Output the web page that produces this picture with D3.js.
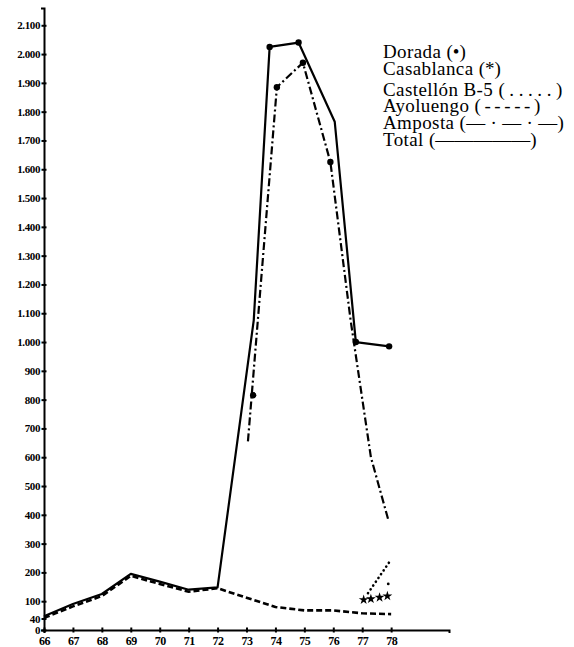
<!DOCTYPE html>
<html><head><meta charset="utf-8">
<script src="https://cdn.jsdelivr.net/npm/d3@7"></script>
<style>body{margin:0;background:#fff} svg{display:block}</style>
</head><body><svg id="c" width="574" height="647"></svg>
<script>
const years = [66,67,68,69,70,71,72,73,74,75,76,77,78];
const yTickValues = [0,40,100,200,300,400,500,600,700,800,900,1000,1100,1200,1300,1400,1500,1600,1700,1800,1900,2000,2100];
const yTickLabels = ["0","40","100","200","300","400","500","600","700","800","900","1.000","1.100","1.200","1.300","1.400","1.500","1.600","1.700","1.800","1.900","2.000","2.100"];

const totalYears  = [66,67,68,69,70,71,72,73.25,73.8,74.8,76.05,76.78,77.93];
const totalValues = [48,90,125,195,168,140,148,1075,2025,2040,1765,1000,985];
const ayoluengoYears  = [66,67,68,69,70,71,72,73,74,75,76,77,78];
const ayoluengoValues = [42,82,118,188,160,133,145,112,80,68,68,58,55];
const ampostaYears  = [73.05,74.05,74.95,75.9,76.6,77.3,77.9];
const ampostaValues = [655,1885,1970,1625,1075,600,383];
const castellonYears  = [77.2,78.0];
const castellonValues = [128,245];
const castellonExtraYears  = [77.9];
const castellonExtraValues = [160];
const casablancaYears  = [77.05,77.3,77.6,77.87];
const casablancaValues = [105,108,113,118];
const doradaYears  = [73.23,73.8,74.05,74.8,74.95,75.9,76.78,77.93];
const doradaValues = [815,2025,1885,2040,1970,1625,1000,985];

const legendNames   = ["Dorada","Casablanca","Castellón B-5","Ayoluengo","Amposta","Total"];
const legendSymbols = ["(•)","(*)","(.....)","(-----)","(— · — · —)","(—————)"];

const svg = d3.select("#c");
const x = d3.scaleLinear().domain([66,80]).range([44,449]);
const y = d3.scaleLinear().domain([0,2160]).range([630,8]);
const serif = "'Liberation Serif','Times New Roman',serif";

// Y axis
const gy = svg.append("g").attr("transform","translate(44,0)")
  .call(d3.axisLeft(y).tickValues(yTickValues).tickSizeOuter(0).tickSize(3)
    .tickFormat((d,i)=>yTickLabels[i]));
gy.select(".domain").attr("stroke","#000").attr("stroke-width",2);
gy.selectAll(".tick line").attr("x1",2.5).attr("x2",-2.5).attr("stroke-width",2);
gy.selectAll(".tick text").attr("x",-4).attr("font-family",serif).attr("font-weight","bold")
  .attr("font-size",11).attr("fill","#000").attr("letter-spacing",-0.4);

// X axis
const gx = svg.append("g").attr("transform","translate(0,630)")
  .call(d3.axisBottom(x).tickValues(years).tickSizeOuter(0).tickSize(3).tickFormat(d=>d));
gx.select(".domain").attr("stroke","#000").attr("stroke-width",2);
gx.selectAll(".tick line").attr("y1",-2.5).attr("y2",2.5).attr("stroke-width",2);
gx.selectAll(".tick text").attr("y",6).attr("font-family",serif).attr("font-weight","bold")
  .attr("font-size",12).attr("fill","#000").attr("letter-spacing",-0.5);

const line = d3.line().x(d=>x(d[0])).y(d=>y(d[1]));
const zip = (a,b)=>a.map((v,i)=>[v,b[i]]);

// Ayoluengo dashed
svg.append("path").datum(zip(ayoluengoYears,ayoluengoValues)).attr("d",line)
  .attr("fill","none").attr("stroke","#000").attr("stroke-width",2.6).attr("stroke-dasharray","6,3");
// Amposta dash-dot
svg.append("path").datum(zip(ampostaYears,ampostaValues)).attr("d",line)
  .attr("fill","none").attr("stroke","#000").attr("stroke-width",2.2).attr("stroke-dasharray","8,3,2,3");
// Castellón dotted
svg.append("path").datum(zip(castellonYears,castellonValues)).attr("d",line)
  .attr("fill","none").attr("stroke","#000").attr("stroke-width",2.6).attr("stroke-linecap","round")
  .attr("stroke-dasharray","0.1,4.5");
svg.selectAll(".cx").data(zip(castellonExtraYears,castellonExtraValues)).enter().append("circle")
  .attr("cx",d=>x(d[0])).attr("cy",d=>y(d[1])).attr("r",1.4).attr("fill","#000");
// Total solid
svg.append("path").datum(zip(totalYears,totalValues)).attr("d",line)
  .attr("fill","none").attr("stroke","#000").attr("stroke-width",2.2).attr("stroke-linejoin","round");
// Casablanca stars
svg.selectAll(".cb").data(zip(casablancaYears,casablancaValues)).enter().append("path")
  .attr("transform",d=>`translate(${x(d[0])},${y(d[1])})`)
  .attr("d",d3.symbol().type(d3.symbolStar).size(30)).attr("fill","#000");
// Dorada dots
svg.selectAll(".dd").data(zip(doradaYears,doradaValues)).enter().append("circle")
  .attr("cx",d=>x(d[0])).attr("cy",d=>y(d[1])).attr("r",3.2).attr("fill","#000");

// Legend
const symSpacing = [0,0,4.6,3.6,0.3,0];
const lg = svg.selectAll(".lg").data(legendNames).enter().append("text")
  .attr("x",383).attr("y",(d,i)=>[58,75,96,112,129,146][i])
  .attr("font-family",serif).attr("font-size",19).attr("letter-spacing",0.4).attr("fill","#000");
lg.append("tspan").text(d=>d + " ");
lg.append("tspan").attr("letter-spacing",(d,i)=>symSpacing[i]).text((d,i)=>legendSymbols[i]);
</script></body></html>
